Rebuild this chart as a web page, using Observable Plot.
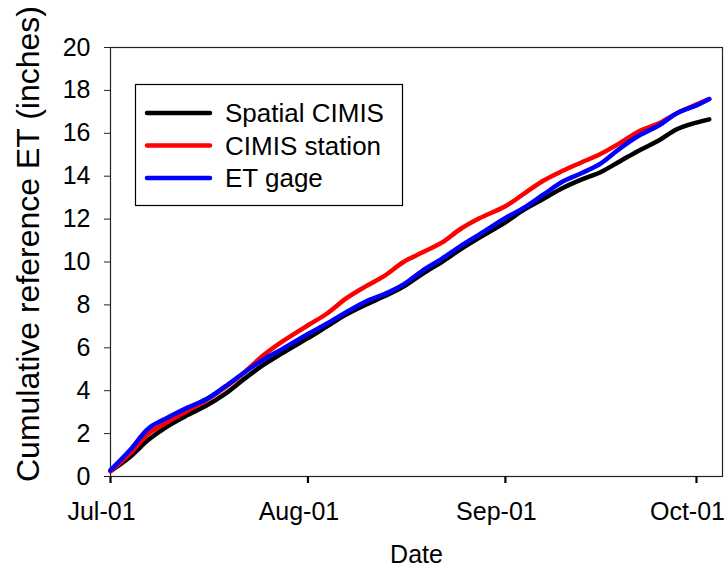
<!DOCTYPE html>
<html>
<head>
<meta charset="utf-8">
<script src="https://cdn.jsdelivr.net/npm/d3@7"></script>
<script src="https://cdn.jsdelivr.net/npm/@observablehq/plot@0.6"></script>
<style>
  html, body { margin: 0; padding: 0; background: #fff; }
  #chart { width: 728px; height: 571px; }
  svg { font-family: "Liberation Sans", Arial, sans-serif; }
</style>
</head>
<body>
<div id="chart"></div>
<script>
// ---- data ----
const dates = [
  "2011-07-01","2011-07-04","2011-07-07","2011-07-10","2011-07-13","2011-07-16","2011-07-19","2011-07-22",
  "2011-07-25","2011-07-28","2011-08-01","2011-08-04","2011-08-07","2011-08-10","2011-08-13","2011-08-16",
  "2011-08-19","2011-08-22","2011-08-25","2011-08-28","2011-09-01","2011-09-04","2011-09-07","2011-09-10",
  "2011-09-13","2011-09-16","2011-09-19","2011-09-22","2011-09-25","2011-09-28","2011-10-01","2011-10-03"
];
const spatialCimis = [0.25,0.90,1.72,2.35,2.85,3.30,3.85,4.55,5.20,5.75,6.45,7.00,7.55,8.00,8.40,8.85,
  9.45,10.00,10.60,11.15,11.85,12.45,12.95,13.45,13.85,14.20,14.70,15.20,15.65,16.20,16.50,16.65];
const cimisStation = [0.25,1.05,2.00,2.55,3.05,3.55,4.15,4.85,5.65,6.30,7.05,7.60,8.30,8.85,9.35,10.00,
  10.45,10.90,11.55,12.05,12.60,13.20,13.80,14.25,14.65,15.05,15.55,16.10,16.45,16.95,17.35,17.60];
const etGage = [0.30,1.21,2.25,2.75,3.20,3.60,4.20,4.85,5.45,5.95,6.65,7.13,7.66,8.15,8.50,8.95,
  9.60,10.15,10.75,11.30,12.05,12.55,13.15,13.75,14.15,14.60,15.30,15.90,16.35,16.95,17.30,17.60];
const seriesNames = ["Spatial CIMIS", "CIMIS station", "ET gage"];
const seriesColors = ["#000000", "#ff0000", "#0000ff"];
const yTicks = [0, 2, 4, 6, 8, 10, 12, 14, 16, 18, 20];
const xTickDates = ["2011-07-01", "2011-08-01", "2011-09-01", "2011-10-01"];
const xDomain = ["2011-07-01T00:00Z", "2011-10-05T02:00Z"];
const yDomain = [0, 20];
const xTitle = "Date";
const yTitle = "Cumulative reference ET (inches)";

// ---- build table ----
const seriesValues = [spatialCimis, cimisStation, etGage];
const rows = [];
seriesNames.forEach((name, s) => {
  dates.forEach((d, i) => rows.push({date: new Date(d), value: seriesValues[s][i], series: name}));
});

const FONT = "Liberation Sans, Arial, sans-serif";
const plot = Plot.plot({
  width: 728,
  height: 571,
  marginLeft: 110,
  marginRight: 6,
  marginTop: 47,
  marginBottom: 95,
  style: {fontFamily: FONT, background: "white", color: "#000"},
  x: {type: "utc", domain: xDomain.map(d => new Date(d))},
  y: {domain: yDomain},
  color: {domain: seriesNames, range: seriesColors},
  marks: [
    Plot.frame({stroke: "#222", strokeWidth: 1.2}),
    Plot.axisY({ticks: yTicks, tickSize: 6, tickPadding: 14, fontSize: 25, label: null, stroke: "#222"}),
    Plot.axisX({ticks: xTickDates.map(d => new Date(d)), tickFormat: () => "", tickSize: 7, label: null, strokeWidth: 2.2}),
    Plot.axisX({ticks: xTickDates.map(d => new Date(d)), tickFormat: d3.utcFormat("%b-%d"), tickSize: 0,
      tickPadding: 26, fontSize: 25, label: null, dx: -9}),
    Plot.text([yTitle], {text: d => d, frameAnchor: "left", rotate: -90, dx: -82, dy: -18, fontSize: 32,
      textAnchor: "middle", lineAnchor: "middle"}),
    Plot.text([xTitle], {text: d => d, frameAnchor: "bottom", dy: 78, fontSize: 25, lineAnchor: "middle"}),
    ...seriesNames.map(name =>
      Plot.line(rows.filter(r => r.series === name), {
        x: "date", y: "value", stroke: "series", strokeWidth: 4.5, curve: "catmull-rom",
        strokeLinejoin: "round", strokeLinecap: "round"
      })
    )
  ]
});
document.getElementById("chart").appendChild(plot);

// ---- legend (inside the plot frame, top-left) ----
const svg = d3.select(plot);
const lg = svg.append("g").attr("transform", "translate(135,84)").attr("text-anchor", "start");
lg.append("rect").attr("x", 0.5).attr("y", 0.5).attr("width", 267).attr("height", 121)
  .attr("fill", "white").attr("stroke", "#000").attr("stroke-width", 1.2);
seriesNames.forEach((name, i) => {
  const cy = 29 + i * 32.5;
  lg.append("line").attr("x1", 12).attr("x2", 75).attr("y1", cy).attr("y2", cy)
    .attr("stroke", seriesColors[i]).attr("stroke-width", 4.5).attr("stroke-linecap", "round");
  lg.append("text").attr("x", 90).attr("y", cy).attr("dy", "0.35em").attr("text-anchor", "start")
    .attr("font-size", 26).attr("font-family", FONT).attr("fill", "#000").text(name);
});
</script>
</body>
</html>
